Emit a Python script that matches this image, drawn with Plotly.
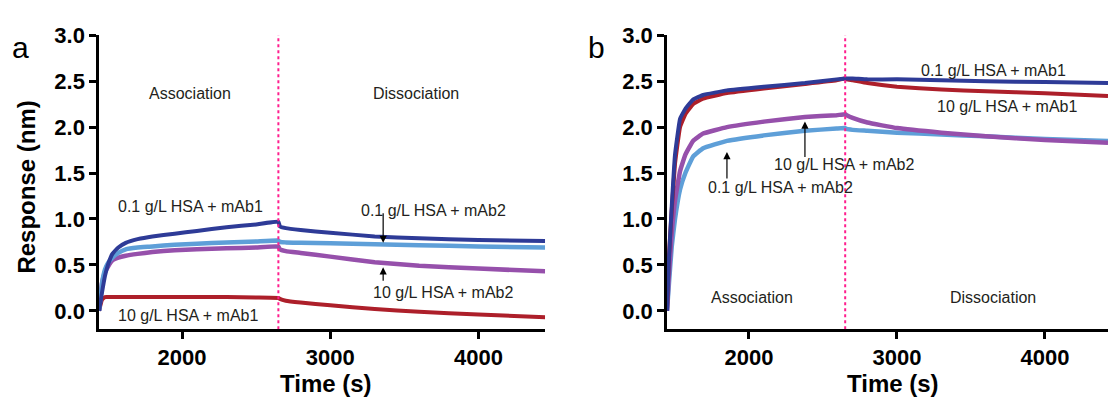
import plotly.graph_objects as go

# ---------------- Panel a data ----------------
t_a = [1440, 1460, 1480, 1500, 1530, 1570, 1620, 1700, 1800, 1950, 2100, 2300, 2500, 2650,
       2660, 2700, 2800, 3000, 3300, 3600, 4000, 4450]
a_hsa01_mab1 = [0.00, 0.20, 0.38, 0.50, 0.62, 0.69, 0.74, 0.78, 0.81, 0.84, 0.87, 0.91, 0.94, 0.97,
                0.92, 0.90, 0.88, 0.85, 0.81, 0.79, 0.77, 0.76]
a_hsa01_mab2 = [0.00, 0.30, 0.45, 0.52, 0.58, 0.63, 0.67, 0.69, 0.70, 0.72, 0.73, 0.745, 0.755, 0.765,
                0.75, 0.745, 0.74, 0.735, 0.725, 0.715, 0.70, 0.69]
a_hsa10_mab2 = [0.00, 0.30, 0.42, 0.48, 0.55, 0.58, 0.60, 0.62, 0.64, 0.66, 0.67, 0.68, 0.69, 0.70,
                0.67, 0.65, 0.63, 0.59, 0.53, 0.49, 0.46, 0.43]
a_hsa10_mab1 = [0.00, 0.12, 0.15, 0.15, 0.15, 0.15, 0.15, 0.15, 0.15, 0.15, 0.15, 0.15, 0.145, 0.14,
                0.13, 0.11, 0.09, 0.06, 0.02, -0.01, -0.04, -0.07]

# ---------------- Panel b data ----------------
t_b = [1446, 1457, 1478, 1500, 1534, 1570, 1622, 1690, 1851, 2100, 2378, 2592, 2650,
       2660, 2700, 2800, 3000, 3300, 3600, 4000, 4426]
b_hsa01_mab1 = [0.00, 0.50, 1.14, 1.70, 2.09, 2.20, 2.30, 2.35, 2.40, 2.44, 2.48, 2.52, 2.53,
                2.53, 2.53, 2.52, 2.52, 2.51, 2.50, 2.49, 2.48]
b_hsa10_mab1 = [0.00, 0.55, 1.10, 1.60, 2.00, 2.14, 2.25, 2.31, 2.37, 2.42, 2.47, 2.51, 2.53,
                2.52, 2.51, 2.48, 2.44, 2.41, 2.39, 2.37, 2.34]
b_hsa10_mab2 = [0.00, 0.35, 0.85, 1.20, 1.52, 1.70, 1.85, 1.93, 2.00, 2.06, 2.11, 2.13, 2.14,
                2.13, 2.10, 2.05, 1.99, 1.94, 1.90, 1.86, 1.83]
b_hsa01_mab2 = [0.00, 0.25, 0.70, 1.00, 1.32, 1.50, 1.68, 1.77, 1.85, 1.91, 1.96, 1.985, 1.99,
                1.98, 1.97, 1.96, 1.94, 1.92, 1.90, 1.87, 1.85]

# ---------------- labels ----------------
x_ticks = [2000, 3000, 4000]
y_ticks = [0.0, 0.5, 1.0, 1.5, 2.0, 2.5, 3.0]
y_ticktext = ["0.0", "0.5", "1.0", "1.5", "2.0", "2.5", "3.0"]
switch_time = 2650

C_DARK = "#2E3B97"
C_LIGHT = "#5E9FD8"
C_PURPLE = "#9650AB"
C_RED = "#AD1F2A"
C_TEXT = "#231F20"
FONT = "Liberation Sans, Arial, sans-serif"

fig = go.Figure()

def add(x, y, color, width, xa, ya):
    fig.add_trace(go.Scatter(x=x, y=y, mode="lines", line=dict(color=color, width=width, shape="spline", smoothing=0.3),
                             xaxis=xa, yaxis=ya, showlegend=False, hoverinfo="skip"))

# panel a
add(t_a, a_hsa10_mab1, C_RED, 4, "x", "y")
add(t_a, a_hsa10_mab2, C_PURPLE, 4.5, "x", "y")
add(t_a, a_hsa01_mab2, C_LIGHT, 4.5, "x", "y")
add(t_a, a_hsa01_mab1, C_DARK, 4, "x", "y")
# panel b
add(t_b, b_hsa01_mab2, C_LIGHT, 4.5, "x2", "y2")
add(t_b, b_hsa10_mab2, C_PURPLE, 4.5, "x2", "y2")
add(t_b, b_hsa10_mab1, C_RED, 4, "x2", "y2")
add(t_b, b_hsa01_mab1, C_DARK, 4, "x2", "y2")

axis_common = dict(showgrid=False, zeroline=False, showline=True, linecolor="black", linewidth=2.5,
                   ticks="outside", ticklen=7, tickwidth=2.5, tickcolor="black", mirror=False,
                   tickfont=dict(family=FONT, size=22, color="black", weight="bold"))

fig.update_layout(
    width=1108, height=400, margin=dict(l=0, r=0, t=0, b=0),
    paper_bgcolor="white", plot_bgcolor="white",
    xaxis=dict(domain=[0.0894, 0.492], range=[1440, 4450], tickvals=x_ticks, anchor="y", **axis_common),
    yaxis=dict(domain=[0.1825, 0.94], range=[-0.2, 3.0], tickvals=y_ticks, ticktext=y_ticktext, anchor="x", **axis_common),
    xaxis2=dict(domain=[0.602, 1.0], range=[1446, 4426], tickvals=x_ticks, anchor="y2", **axis_common),
    yaxis2=dict(domain=[0.1825, 0.94], range=[-0.2, 3.0], tickvals=y_ticks, ticktext=y_ticktext, anchor="x2", **axis_common),
)

# dotted switch lines
for xr, yr in (("x", "y"), ("x2", "y2")):
    fig.add_shape(type="line", xref=xr, yref=yr, x0=switch_time, x1=switch_time, y0=-0.2, y1=3.05,
                  line=dict(color="#FF1F8E", width=2, dash="dot"), layer="above")

def txt(x, y, s, xr, yr, size=16):
    fig.add_annotation(x=x, y=y, xref=xr, yref=yr, text=s, showarrow=False,
                       font=dict(family=FONT, size=size, color=C_TEXT), xanchor="center", yanchor="middle")

def arrow(x, y, ay, xr, yr):
    fig.add_annotation(x=x, y=y, xref=xr, yref=yr, text="", showarrow=True, ax=0, ay=ay,
                       axref="pixel", ayref="pixel", arrowhead=2, arrowsize=1.2, arrowwidth=1.2, arrowcolor="black")

# panel a texts
txt(2054, 2.365, "Association", "x", "y")
txt(3579, 2.365, "Dissociation", "x", "y")
txt(2054, 1.14, "0.1 g/L HSA + mAb1", "x", "y")
txt(2040, -0.053, "10 g/L HSA + mAb1", "x", "y")
txt(3694, 1.088, "0.1 g/L HSA + mAb2", "x", "y")
txt(3762, 0.20, "10 g/L HSA + mAb2", "x", "y")
arrow(3357, 0.74, -31, "x", "y")
arrow(3357, 0.475, 15, "x", "y")

# panel b texts
txt(3649, 2.62, "0.1 g/L HSA + mAb1", "x2", "y2")
txt(3743, 2.22, "10 g/L HSA + mAb1", "x2", "y2")
txt(2642, 1.595, "10 g/L HSA + mAb2", "x2", "y2")
txt(2210, 1.34, "0.1 g/L HSA + mAb2", "x2", "y2")
txt(2020, 0.148, "Association", "x2", "y2")
txt(3649, 0.148, "Dissociation", "x2", "y2")
arrow(2378, 2.06, 37, "x2", "y2")
arrow(1851, 1.73, 28, "x2", "y2")

# axis titles and panel letters (paper coords)
def ptxt(px, py, s, size, bold=False, angle=0):
    fig.add_annotation(x=px / 1108, y=1 - py / 400, xref="paper", yref="paper", text=s, showarrow=False,
                       textangle=angle, xanchor="center", yanchor="middle",
                       font=dict(family=FONT, size=size, color="black", weight="bold" if bold else "normal"))

ptxt(27, 181, "Response (nm)", 24, bold=True, angle=-90)
ptxt(326, 383, "Time (s)", 24, bold=True)
ptxt(893, 383, "Time (s)", 24, bold=True)
ptxt(20, 37, "a", 30)
ptxt(596, 37, "b", 30)

fig.write_html("out.html")
